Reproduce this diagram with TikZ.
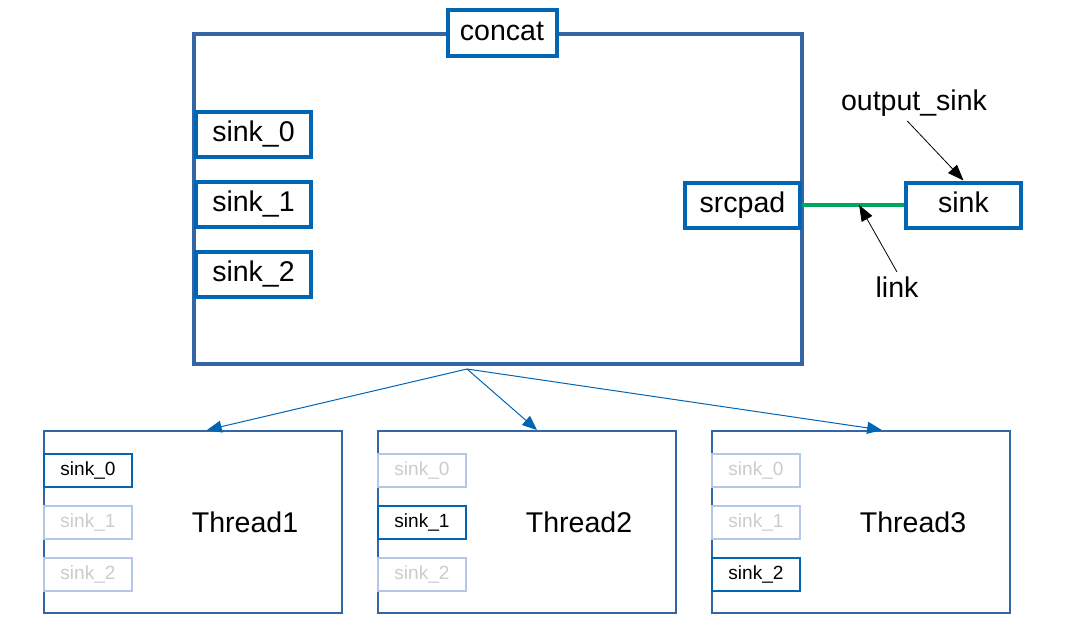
\documentclass[tikz,border=0pt]{standalone}
\usepackage{fontspec}
\setmainfont{Liberation Sans}
\usepackage{xcolor}
\definecolor{frameblue}{RGB}{52,101,164}
\definecolor{padblue}{RGB}{0,102,179}
\definecolor{fadeblue}{RGB}{180,199,231}
\definecolor{fadetext}{RGB}{204,204,204}
\definecolor{linkgreen}{RGB}{0,166,93}
\usepackage{tikz}
\usetikzlibrary{positioning}
\usetikzlibrary{arrows.meta}

\begin{document}
\begin{tikzpicture}[x=0.75pt, y=-0.75pt,
    bigfont/.style={font=\fontsize{21.4}{25}\selectfont},
    smallfont/.style={font=\fontsize{14.3}{17}\selectfont},
    frame/.style={draw=frameblue, line width=3pt, minimum width=456pt, minimum height=247.5pt},
    pad/.style={draw=padblue, line width=3pt, fill=white, bigfont, minimum width=86.25pt, minimum height=33.75pt, inner sep=0pt, text height=15.4pt, text depth=4.3pt},
    thread/.style={draw=frameblue, line width=1.5pt, minimum width=223.5pt, minimum height=136.5pt},
    tpad/.style={draw=padblue, line width=1.5pt, fill=white, smallfont, minimum width=66pt, minimum height=24.75pt, inner sep=0pt, text height=10.3pt, text depth=2.9pt},
    tpadoff/.style={tpad, draw=fadeblue, text=fadetext},
    fanarrow/.style={-{Triangle[length=11pt,width=9pt]}, draw=padblue, line width=0.75pt},
    callout/.style={-{Triangle[length=12pt,width=9pt]}, line width=0.6pt},
    linkline/.style={draw=linkgreen, line width=3pt},
]
\useasboundingbox (0,0) rectangle (1086,637);

% the concat element with its pads
\node[frame] (concatbox) at (498,199) {};
\node[pad, minimum width=81.75pt, minimum height=34.5pt] (concatlbl) at (502,33) {concat};
\node[pad, anchor=west] (sink0) at (194,134.5) {sink\_0};
\node[pad, below=15.75pt of sink0] (sink1) {sink\_1};
\node[pad, below=15.75pt of sink1] (sink2) {sink\_2};
\node[pad, anchor=east] (srcpad) at (802,205) {srcpad};

% downstream element
\node[pad] (sink) at (963.5,205) {sink};
\node[bigfont] (outlbl) at (914,103) {output\_sink};
\node[bigfont] (linklbl) at (897,287) {link};

\draw[linkline] (srcpad.east) -- coordinate[pos=0.56] (linkpt) (sink.west);
\draw[callout] ([xshift=-5pt]outlbl.south) -- (sink.north);
\draw[callout] (linklbl.north) -- (linkpt);

% streaming threads
\node[thread] (thread1) at (193,522) {};
\node[thread] (thread2) at (527,522) {};
\node[thread] (thread3) at (860.5,522) {};
\node[bigfont] (t1lbl) at (245,522) {Thread1};
\node[bigfont] (t2lbl) at (579,522) {Thread2};
\node[bigfont] (t3lbl) at (913,522) {Thread3};

\node[tpad, anchor=west] (t1sink0) at (43,470.5) {sink\_0};
\node[tpadoff, below=12.75pt of t1sink0] (t1sink1) {sink\_1};
\node[tpadoff, below=12.75pt of t1sink1] (t1sink2) {sink\_2};

\node[tpadoff, anchor=west] (t2sink0) at (377,470.5) {sink\_0};
\node[tpad, below=12.75pt of t2sink0] (t2sink1) {sink\_1};
\node[tpadoff, below=12.75pt of t2sink1] (t2sink2) {sink\_2};

\node[tpadoff, anchor=west] (t3sink0) at (711,470.5) {sink\_0};
\node[tpadoff, below=12.75pt of t3sink0] (t3sink1) {sink\_1};
\node[tpad, below=12.75pt of t3sink1] (t3sink2) {sink\_2};

\coordinate (fanout) at (467,369);
\draw[fanarrow] (fanout) -- ([xshift=10.5pt]thread1.north);
\draw[fanarrow] (fanout) -- ([xshift=7.5pt]thread2.north);
\draw[fanarrow] (fanout) -- ([xshift=16pt]thread3.north);

\end{tikzpicture}
\end{document}
